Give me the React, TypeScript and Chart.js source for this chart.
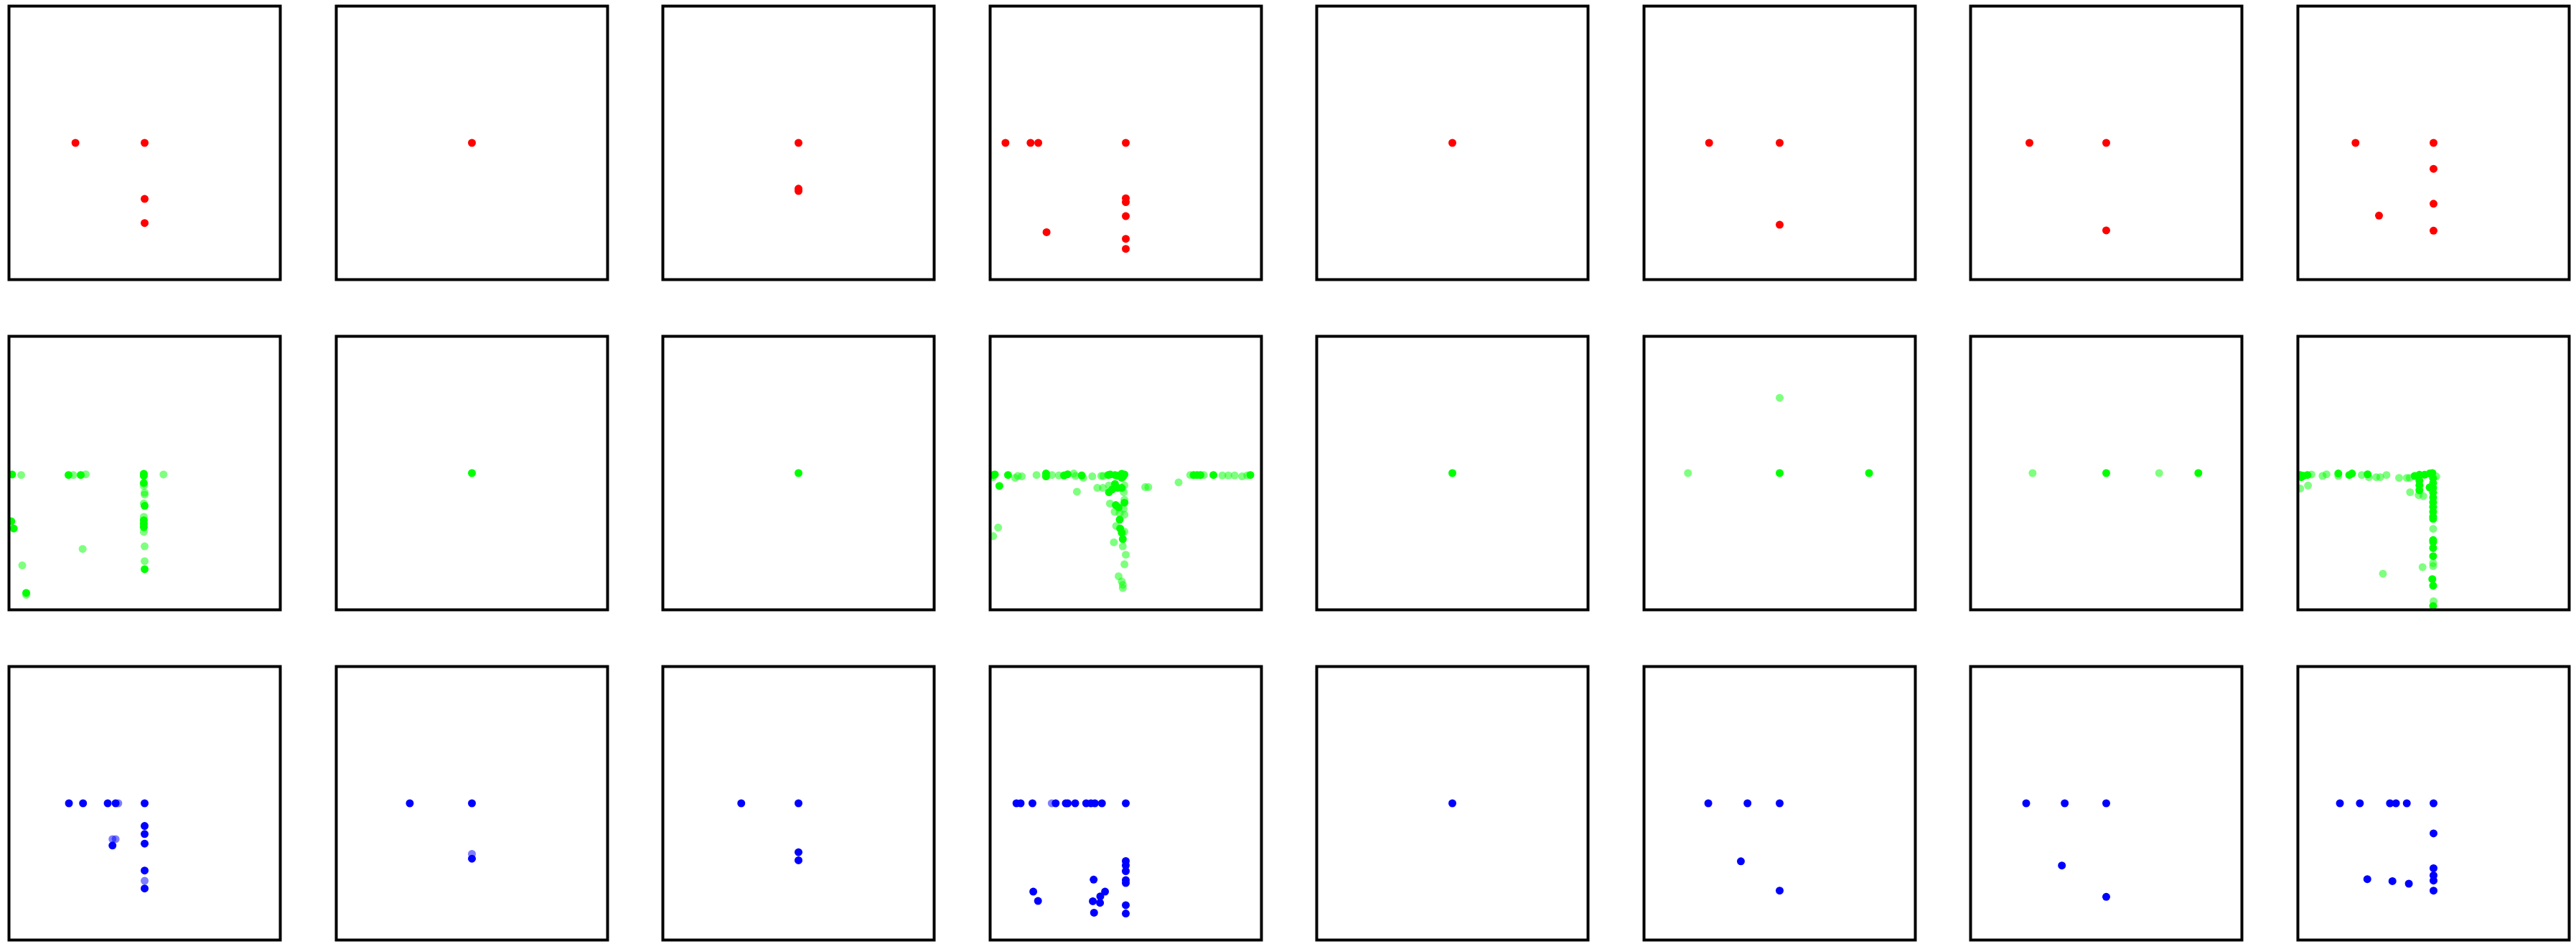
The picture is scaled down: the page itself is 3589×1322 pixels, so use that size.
import React, { useEffect, useRef } from "react";
import { Chart, registerables } from "chart.js";

Chart.register(...registerables);

// Each point: [x, y, weight]; weight 1 = single (faint) mark, 2 = overlapping marks (solid)
type Pt = [number, number, number];

const redPanels: Pt[][] = [
  [[-0.51, 0, 2], [0, 0, 2], [0, -0.41, 2], [0, -0.586, 2]],
  [[0, 0, 2]],
  [[0, 0, 2], [0, -0.335, 2], [0, -0.352, 2]],
  [[-0.887, 0, 2], [-0.702, 0, 2], [-0.645, 0, 2], [0, 0, 2], [0, -0.405, 2], [0, -0.433, 2], [0, -0.536, 2], [-0.584, -0.653, 2], [0, -0.702, 2], [0, -0.775, 2]],
  [[0, 0, 2]],
  [[-0.52, 0, 2], [0, 0, 2], [0, -0.599, 2]],
  [[-0.566, 0, 2], [0, 0, 2], [0, -0.64, 2]],
  [[-0.575, 0, 2], [0, 0, 2], [0, -0.19, 2], [0, -0.445, 2], [-0.402, -0.532, 2], [0, -0.642, 2]],
];

const greenPanels: Pt[][] = [
  [
    [-0.977, -0.01, 2], [-0.91, -0.014, 1], [-0.561, -0.014, 2], [-0.526, -0.014, 1], [-0.471, -0.014, 2], [-0.434, -0.009, 1],
    [-0.006, -0.005, 2], [-0.006, -0.02, 2], [-0.006, -0.073, 2], [-0.006, -0.094, 1], [0, -0.143, 1], [0, -0.157, 1],
    [-0.006, -0.222, 1], [0, -0.239, 2], [-0.006, -0.32, 1], [-0.006, -0.345, 2], [-0.006, -0.37, 2], [-0.006, -0.395, 2],
    [-0.006, -0.43, 1], [0, -0.536, 1], [0, -0.644, 1], [0, -0.703, 2], [0.139, -0.01, 1], [-0.983, -0.353, 2],
    [-0.965, -0.405, 2], [-0.457, -0.555, 1], [-0.902, -0.675, 1], [-0.873, -0.876, 2], [-0.873, -0.89, 1],
  ],
  [[0, 0, 2]],
  [[0, 0, 2]],
  [
    [-0.978, -0.014, 2], [-0.965, -0.01, 2], [-0.98, -0.03, 1], [-0.868, -0.014, 2], [-0.816, -0.035, 1], [-0.796, -0.021, 1],
    [-0.767, -0.024, 1], [-0.658, -0.014, 1], [-0.588, -0.003, 2], [-0.588, -0.024, 2], [-0.545, -0.014, 1], [-0.493, -0.017, 1],
    [-0.455, -0.017, 2], [-0.429, -0.009, 2], [-0.383, -0.003, 1], [-0.371, -0.021, 1], [-0.325, -0.017, 2], [-0.313, -0.035, 1],
    [-0.247, -0.024, 1], [-0.181, -0.021, 1], [-0.166, -0.021, 1],
    [-0.13, -0.014, 2], [-0.115, -0.01, 2], [-0.08, -0.014, 2], [-0.06, -0.02, 2], [-0.03, -0.005, 2], [-0.02, -0.025, 2],
    [-0.01, -0.01, 2], [-0.03, -0.035, 2],
    [0.143, -0.103, 1], [0.166, -0.103, 1], [0.389, -0.068, 1],
    [0.475, -0.014, 1], [0.5, -0.014, 2], [0.526, -0.014, 2], [0.55, -0.014, 2], [0.575, -0.014, 1], [0.646, -0.014, 2],
    [0.712, -0.017, 1], [0.756, -0.017, 1], [0.802, -0.017, 1], [0.857, -0.024, 1], [0.895, -0.017, 1], [0.918, -0.014, 2],
    [-0.932, -0.094, 2], [-0.36, -0.136, 1], [-0.21, -0.108, 1], [-0.169, -0.108, 1],
    [-0.124, -0.09, 1], [-0.124, -0.14, 2], [-0.08, -0.08, 2], [-0.06, -0.108, 2], [-0.03, -0.108, 2], [-0.015, -0.14, 1],
    [-0.01, -0.09, 1], [-0.1, -0.12, 2],
    [-0.01, -0.195, 1], [-0.01, -0.216, 2], [-0.117, -0.223, 1], [-0.074, -0.234, 2], [-0.053, -0.251, 2], [-0.082, -0.283, 1],
    [-0.016, -0.262, 1], [-0.045, -0.291, 1], [-0.01, -0.304, 1], [-0.045, -0.34, 2], [-0.071, -0.387, 1], [-0.042, -0.405, 2],
    [-0.03, -0.436, 2], [-0.01, -0.428, 1], [-0.022, -0.483, 2], [-0.088, -0.506, 1], [-0.022, -0.536, 1], [0, -0.597, 1],
    [-0.01, -0.667, 1], [-0.053, -0.754, 1], [-0.03, -0.792, 1], [-0.022, -0.817, 1], [-0.022, -0.841, 1],
    [-0.941, -0.398, 1], [-0.978, -0.461, 1],
  ],
  [[0, 0, 2]],
  [[0, 0.55, 1], [-0.676, 0, 1], [0, 0, 2], [0.659, 0, 2]],
  [[-0.543, 0, 1], [0, 0, 2], [0.39, 0, 1], [0.679, 0, 2]],
  [
    [-0.983, -0.014, 2], [-0.96, -0.02, 2], [-0.93, -0.014, 2], [-0.9, -0.01, 1], [-0.975, -0.03, 2],
    [-0.818, -0.021, 1], [-0.789, -0.009, 1], [-0.702, -0.003, 2], [-0.702, -0.021, 1], [-0.621, -0.014, 2], [-0.601, -0.003, 2],
    [-0.529, -0.014, 1], [-0.486, -0.009, 2], [-0.477, -0.03, 1], [-0.422, -0.03, 1], [-0.393, -0.03, 1], [-0.347, -0.014, 1],
    [-0.254, -0.035, 1], [-0.197, -0.035, 1], [-0.176, -0.035, 1], [-0.139, -0.021, 2], [-0.104, -0.012, 2], [-0.066, -0.012, 2],
    [-0.029, -0.003, 2], [-0.009, 0, 2], [0.02, -0.024, 1],
    [-0.983, -0.113, 1], [-0.925, -0.091, 1], [-0.173, -0.14, 1],
    [-0.104, -0.056, 2], [-0.104, -0.09, 2], [-0.104, -0.126, 2], [-0.11, -0.161, 1], [-0.075, -0.169, 1], [-0.029, -0.105, 2],
    [-0.003, -0.038, 2], [-0.003, -0.073, 2], [-0.003, -0.108, 2], [-0.003, -0.143, 2], [-0.003, -0.178, 2], [-0.003, -0.213, 2],
    [-0.003, -0.248, 2], [-0.003, -0.283, 2], [-0.003, -0.318, 2], [-0.003, -0.335, 2], [-0.003, -0.408, 1],
    [-0.003, -0.49, 2], [-0.003, -0.504, 2], [-0.003, -0.548, 2], [-0.003, -0.607, 2], [-0.003, -0.658, 1], [-0.003, -0.68, 1],
    [-0.081, -0.688, 1], [-0.373, -0.736, 1], [-0.009, -0.775, 2], [-0.003, -0.824, 2], [0, -0.937, 1], [-0.003, -0.972, 2],
  ],
];

const bluePanels: Pt[][] = [
  [[-0.558, 0, 2], [-0.454, 0, 2], [-0.272, 0, 2], [-0.214, 0, 2], [-0.194, 0, 1], [0, 0, 2], [0, -0.166, 2], [0, -0.225, 2],
   [0, -0.295, 2], [-0.237, -0.262, 1], [-0.214, -0.262, 1], [-0.237, -0.309, 2], [0, -0.492, 2], [0, -0.567, 1], [0, -0.623, 2]],
  [[-0.458, 0, 2], [0, 0, 2], [0, -0.37, 1], [0, -0.405, 2]],
  [[-0.422, 0, 2], [0, 0, 2], [0, -0.358, 2], [0, -0.417, 2]],
  [[-0.806, 0, 2], [-0.775, 0, 2], [-0.688, 0, 2], [-0.546, 0, 1], [-0.517, 0, 2], [-0.442, 0, 2], [-0.428, 0, 2], [-0.373, 0, 2],
   [-0.292, 0, 2], [-0.257, 0, 2], [-0.228, 0, 2], [-0.176, 0, 2], [0, 0, 2], [0, -0.422, 2], [0, -0.454, 2], [0, -0.496, 2],
   [0, -0.562, 2], [0, -0.583, 2], [0, -0.745, 2], [0, -0.806, 2], [-0.237, -0.558, 2], [-0.682, -0.646, 2], [-0.647, -0.714, 2],
   [-0.153, -0.646, 2], [-0.188, -0.681, 2], [-0.19, -0.728, 2], [-0.243, -0.716, 2], [-0.234, -0.8, 2]],
  [[0, 0, 2]],
  [[-0.526, 0, 2], [-0.237, 0, 2], [0, 0, 2], [-0.286, -0.424, 2], [0, -0.639, 2]],
  [[-0.59, 0, 2], [-0.306, 0, 2], [0, 0, 2], [-0.327, -0.455, 2], [0, -0.684, 2]],
  [[-0.69, 0, 2], [-0.543, 0, 2], [-0.321, 0, 2], [-0.277, 0, 2], [-0.197, 0, 2], [0, 0, 2], [0, -0.22, 2], [0, -0.475, 2],
   [0, -0.527, 2], [0, -0.565, 2], [0, -0.639, 2], [-0.488, -0.555, 2], [-0.303, -0.569, 2], [-0.182, -0.588, 2]],
];

const rowSeries: Pt[][][] = [redPanels, greenPanels, bluePanels];
const rowColors = ["255,0,0", "0,255,0", "0,0,255"];

// layout (pixels)
const FIG_W = 3589;
const FIG_H = 1322;
const LEFT0 = 11.4;
const COL_STEP = 455.5;
const PANEL_W = 381;
const TOP0 = 7;
const ROW_STEP = 459.8;
const PANEL_H = 384;
const PAD = 4;
const FRAME_W = 4;

const framePlugin = {
  id: "frame",
  afterDraw(chart: any) {
    const { ctx, chartArea: a } = chart;
    ctx.save();
    ctx.strokeStyle = "#000";
    ctx.lineWidth = FRAME_W;
    ctx.strokeRect(a.left, a.top, a.right - a.left, a.bottom - a.top);
    ctx.restore();
  },
};

function Panel({ points, color, left, top }: { points: Pt[]; color: string; left: number; top: number }) {
  const ref = useRef<HTMLCanvasElement>(null);
  useEffect(() => {
    const colors = points.map((p) => `rgba(${color},${Math.min(1, 0.5 * p[2])})`);
    const chart = new Chart(ref.current!, {
      type: "scatter",
      data: {
        datasets: [
          {
            data: points.map((p) => ({ x: p[0], y: p[1] })),
            backgroundColor: colors,
            pointBackgroundColor: colors,
            pointBorderColor: "rgba(0,0,0,0)",
            pointBorderWidth: 0,
            pointRadius: 5.5,
            pointHoverRadius: 5.5,
            clip: 0,
          } as any,
        ],
      },
      options: {
        animation: false,
        responsive: false,
        devicePixelRatio: 1,
        events: [],
        layout: { padding: PAD },
        plugins: { legend: { display: false }, tooltip: { enabled: false } },
        scales: {
          x: { type: "linear", min: -1, max: 1, display: false },
          y: { type: "linear", min: -1, max: 1, display: false },
        },
      },
      plugins: [framePlugin],
    });
    return () => chart.destroy();
  }, [points, color]);
  const w = PANEL_W + 2 * PAD;
  const h = PANEL_H + 2 * PAD;
  return (
    <canvas
      ref={ref}
      width={w}
      height={h}
      style={{ position: "absolute", left, top, width: w, height: h, display: "block" }}
    />
  );
}

export default function App() {
  const panels: React.ReactNode[] = [];
  rowSeries.forEach((series, r) => {
    series.forEach((pts, c) => {
      const left = Math.round(LEFT0 + c * COL_STEP) - PAD;
      const top = Math.round(TOP0 + r * ROW_STEP) - PAD;
      panels.push(<Panel key={`${r}-${c}`} points={pts} color={rowColors[r]} left={left} top={top} />);
    });
  });
  return (
    <div
      style={{
        position: "absolute",
        left: 0,
        top: 0,
        width: FIG_W,
        height: FIG_H,
        background: "#fff",
        overflow: "hidden",
      }}
    >
      {panels}
    </div>
  );
}
